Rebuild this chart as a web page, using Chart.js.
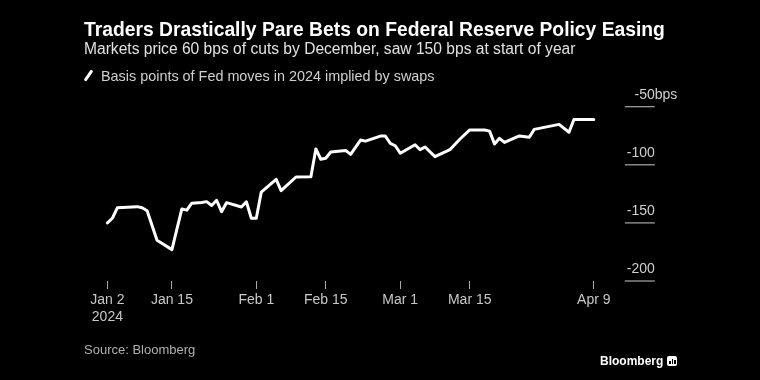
<!DOCTYPE html>
<html><head><meta charset="utf-8">
<script src="https://cdn.jsdelivr.net/npm/chart.js@4.4.1/dist/chart.umd.min.js"></script>
<style>
html,body{margin:0;padding:0;background:#000;}
#wrap{position:relative;width:760px;height:380px;background:#000;overflow:hidden;font-family:"Liberation Sans",Arial,sans-serif;}
canvas{position:absolute;left:0;top:0;}
.t{position:absolute;white-space:nowrap;line-height:1;}
#icon{position:absolute;left:87px;top:69px;width:3px;height:13px;background:#fff;border-radius:1.5px;transform:rotate(35deg);}
#logoicon{position:absolute;left:667px;top:356px;width:10px;height:10px;background:#fff;border-radius:2px;}
#logoicon span{position:absolute;bottom:2px;width:1.5px;background:#000;}
</style></head><body>
<div id="wrap">
<canvas id="c" width="760" height="380"></canvas>
<div class="t" style="left:84px;top:19.5px;font-size:19.3px;font-weight:bold;color:#fff;">Traders Drastically Pare Bets on Federal Reserve Policy Easing</div>
<div class="t" style="left:84px;top:40.8px;font-size:15.6px;color:#e2e2e2;">Markets price 60 bps of cuts by December, saw 150 bps at start of year</div>
<div id="icon"></div>
<div class="t" style="left:101px;top:68.5px;font-size:14.4px;color:#d0d0d0;">Basis points of Fed moves in 2024 implied by swaps</div>
<div class="t" style="left:84px;top:342.5px;font-size:13px;color:#b0b0b0;">Source: Bloomberg</div>
<div class="t" style="left:600px;top:354.5px;font-size:12px;font-weight:bold;color:#fff;">Bloomberg</div>
<div id="logoicon"><span style="left:2px;height:3px"></span><span style="left:4.5px;height:5px"></span><span style="left:7px;height:4px"></span></div>
</div>
<script>
// Day offsets counted from Jan 2, 2024
const dayOffsets = [0,1,2,6,7,8,10,13,15,16,17,19,20,21,22,23,24,27,28,29,30,31,34,35,38,41,42,43,44,45,48,49,51,52,55,56,57,58,59,62,63,64,66,69,71,73,76,77,78,79,80,83,85,86,91,93,94,98];
// Basis points of Fed moves in 2024 implied by swaps
const bpsValues = [-150,-146,-137,-136,-137,-139.5,-165,-173,-138,-139,-133,-132.5,-131.7,-135,-130.5,-140.4,-132.6,-136.3,-131.8,-146,-146,-123.5,-112.5,-122.3,-110.5,-110.2,-86.4,-95.2,-94.4,-89,-87.6,-91,-78.7,-79.6,-75.3,-75.3,-81.5,-83.6,-90,-82.7,-87,-84.7,-93,-87,-78,-70,-70,-71,-82,-77.2,-80.7,-75.2,-76.3,-69.5,-65.2,-72,-61,-61];
const xTickDays = [0,13,30,44,59,73,98];
const xTickLabels = [["Jan 2","2024"],"Jan 15","Feb 1","Feb 15","Mar 1","Mar 15","Apr 9"];
const yTickValues = [-50,-100,-150,-200];
const yTickLabels = ["-50","-100","-150","-200"];
const yUnit = "bps";

const points = dayOffsets.map((d,i)=>({x:d,y:bpsValues[i]}));

const yLabelPlugin = {
  id:'yLabels',
  afterDraw(chart){
    const ctx = chart.ctx, ys = chart.scales.y, ca = chart.chartArea;
    const x0 = ca.right + 31, x1 = ca.right + 61;
    ctx.save();
    ctx.font = '14px "Liberation Sans", Arial, sans-serif';
    yTickValues.forEach((v,i)=>{
      const py = ys.getPixelForValue(v);
      ctx.strokeStyle = '#a8a8a8';
      ctx.lineWidth = 1.2;
      ctx.beginPath(); ctx.moveTo(x0,py); ctx.lineTo(x1,py); ctx.stroke();
      ctx.fillStyle = '#cfcfcf';
      ctx.textBaseline = 'alphabetic';
      ctx.textAlign = 'right';
      ctx.fillText(yTickLabels[i], x1, py-8);
      if(i===0){ ctx.textAlign='left'; ctx.fillText(yUnit, x1, py-8); }
    });
    ctx.restore();
  }
};

new Chart(document.getElementById('c'), {
  type:'line',
  data:{datasets:[{
    label:'Basis points of Fed moves in 2024 implied by swaps',
    data:points,
    borderColor:'#ffffff',
    borderWidth:3,
    pointRadius:0,
    tension:0,
    fill:false,
    clip:false,
    borderJoinStyle:'round',
    borderCapStyle:'round'
  }]},
  options:{
    responsive:false,
    animation:false,
    devicePixelRatio:1,
    layout:{padding:{left:107.4,right:166.2,top:106.7,bottom:39}},
    plugins:{legend:{display:false},tooltip:{enabled:false},title:{display:false}},
    scales:{
      x:{
        type:'linear', position:'bottom', min:0, max:98,
        afterBuildTicks:(s)=>{ s.ticks = xTickDays.map(v=>({value:v})); },
        afterFit:(s)=>{ s.height = 60; },
        ticks:{
          autoSkip:false, maxRotation:0, padding:3, color:'#c8c8c8',
          font:{family:'"Liberation Sans", Arial, sans-serif', size:14},
          callback:(v)=>{ const i = xTickDays.indexOf(v); return i>=0 ? xTickLabels[i] : ''; }
        },
        grid:{drawOnChartArea:false, drawTicks:true, tickLength:8, color:'#a8a8a8', lineWidth:1},
        border:{display:false}
      },
      y:{type:'linear', display:false, min:-200, max:-50}
    }
  },
  plugins:[yLabelPlugin]
});
</script>
</body></html>
